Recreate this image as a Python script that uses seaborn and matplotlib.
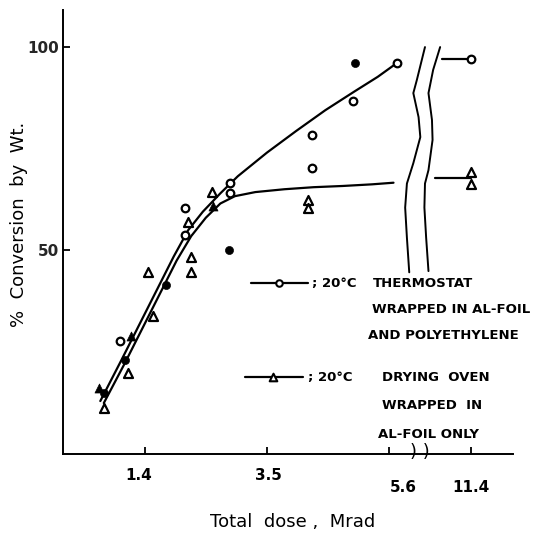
import numpy as np
import matplotlib
matplotlib.use("Agg")
import matplotlib.pyplot as plt
import seaborn as sns

# Conversion (% by weight) against total dose (Mrad)
thermo_dose = [0.97, 2.10, 2.10, 2.86, 2.86, 4.28, 4.28, 4.98, 5.73, 11.4]
thermo_conv = [27.7, 60.3, 53.7, 66.5, 64.0, 78.3, 70.2, 86.6, 96.0, 97.0]

oven_dose = [0.70, 1.11, 1.54, 1.45, 2.19, 2.20, 2.14, 2.55, 4.21, 4.21, 11.4, 11.4]
oven_conv = [11.2, 19.8, 34.0, 44.6, 44.6, 48.3, 56.9, 64.3, 62.3, 60.3, 69.3, 66.4]

solid_circle_dose = [0.70, 1.07, 1.76, 2.84, 5.01]
solid_circle_conv = [14.9, 23.0, 41.6, 50.0, 96.0]

solid_tri_dose = [0.61, 1.16, 2.57]
solid_tri_conv = [16.1, 28.9, 60.8]

# Hand-drawn trend curves
thermo_curve_dose = [0.64, 1.0, 1.3, 1.6, 1.9, 2.15, 2.4, 2.7, 3.0, 3.5, 4.0, 4.5, 5.0, 5.4, 5.73]
thermo_curve_conv = [13, 23, 31.5, 40, 48.5, 55, 59.5, 64, 68.2, 74, 79.3, 84.4, 89, 92.6, 96]
oven_curve_dose = [0.70, 1.05, 1.35, 1.65, 1.95, 2.2, 2.45, 2.7, 2.95, 3.3, 3.8, 4.3, 4.8, 5.3, 5.67]
oven_curve_conv = [12.5, 22, 30.5, 39, 47.5, 53.5, 58, 61.5, 63.3, 64.3, 65.0, 65.5, 65.8, 66.2, 66.6]

x_tick_values = [1.4, 3.5, 5.6, 11.4]
y_tick_values = [50, 100]

# The dose axis is broken after 5.6 Mrad; 11.4 Mrad sits just past the break
BREAK_DOSE = 11.4
BREAK_POS = 7.0


def axis_pos(doses):
    return [BREAK_POS if d == BREAK_DOSE else d for d in doses]


sns.set_theme(style="white")
plt.rcParams["font.family"] = ["DejaVu Sans"]

fig = plt.figure(figsize=(5.4, 5.35), dpi=100)
ax = fig.add_axes([63 / 540, 1 - 454 / 535, (513 - 63) / 540, (454 - 10) / 535])
ax.set_xlim(0, 7.72)
ax.set_ylim(0, 109)

ink = "black"
lw = 1.6

# trend curves
sns.lineplot(x=thermo_curve_dose, y=thermo_curve_conv, sort=False, estimator=None,
             color=ink, lw=lw, ax=ax)
sns.lineplot(x=oven_curve_dose, y=oven_curve_conv, sort=False, estimator=None,
             color=ink, lw=lw, ax=ax)

# short leaders to the 11.4 Mrad points
ax.plot([6.50, BREAK_POS], [thermo_conv[-1]] * 2, color=ink, lw=lw)
ax.plot([6.38, BREAK_POS], [np.mean(oven_conv[-2:])] * 2, color=ink, lw=lw)

# measured points
sns.scatterplot(x=axis_pos(thermo_dose), y=thermo_conv, marker="o", s=30,
                facecolor="white", edgecolor=ink, linewidth=1.6, ax=ax, zorder=4)
sns.scatterplot(x=axis_pos(oven_dose), y=oven_conv, marker="^", s=42,
                facecolor="white", edgecolor=ink, linewidth=1.6, ax=ax, zorder=4)
sns.scatterplot(x=solid_circle_dose, y=solid_circle_conv, marker="o", s=34,
                color=ink, edgecolor=ink, ax=ax, zorder=4)
sns.scatterplot(x=solid_tri_dose, y=solid_tri_conv, marker="^", s=42,
                color=ink, edgecolor=ink, ax=ax, zorder=4)

# wavy break lines through the plot area
wave_left_x = [6.21, 6.07, 6.01, 6.10, 6.13, 6.01, 5.90, 5.87, 5.90, 5.94]
wave_left_y = [99.9, 91.8, 88.6, 82.7, 77.8, 71.4, 66.4, 60.5, 53.1, 44.6]
wave_right_x = [6.47, 6.35, 6.27, 6.33, 6.34, 6.27, 6.21, 6.20, 6.23, 6.27]
wave_right_y = [99.9, 94.3, 88.6, 82.0, 77.1, 69.7, 66.4, 60.5, 53.1, 44.9]
ax.plot(wave_left_x, wave_left_y, color=ink, lw=1.4)
ax.plot(wave_right_x, wave_right_y, color=ink, lw=1.4)

# break marks on the dose axis
ax.text(6.12, 0.4, ") )", fontsize=13, ha="center", va="center", color=ink,
        clip_on=False)

# legend, lettered inside the plot
ax.plot([3.22, 4.21], [41.9, 41.9], color=ink, lw=lw)
ax.scatter([3.70], [41.9], marker="o", s=22, facecolor="white", edgecolor=ink,
           linewidth=1.5, zorder=4)
ax.plot([3.13, 4.12], [18.8, 18.8], color=ink, lw=lw)
ax.scatter([3.61], [18.8], marker="^", s=30, facecolor="white", edgecolor=ink,
           linewidth=1.5, zorder=4)

lkw = dict(fontsize=9.5, fontweight="bold", color=ink, va="center", ha="left")
ax.text(4.27, 41.9, "; 20°C", **lkw)
ax.text(5.32, 41.9, "THERMOSTAT", **lkw)
ax.text(5.30, 35.5, "WRAPPED IN AL-FOIL", clip_on=False, **lkw)
ax.text(5.24, 29.1, "AND POLYETHYLENE", **lkw)
ax.text(4.21, 18.8, "; 20°C", **lkw)
ax.text(5.48, 18.8, "DRYING  OVEN", **lkw)
ax.text(5.48, 11.9, "WRAPPED  IN", **lkw)
ax.text(5.41, 4.9, "AL-FOIL ONLY", **lkw)

# axes styling
for side in ("top", "right"):
    ax.spines[side].set_visible(False)
for side in ("left", "bottom"):
    ax.spines[side].set_color(ink)
    ax.spines[side].set_linewidth(1.4)

ax.set_xticks(axis_pos(x_tick_values))
ax.set_xticklabels([])
ax.set_yticks(y_tick_values)
ax.set_yticklabels([str(v) for v in y_tick_values], fontsize=11, fontweight="bold")
ax.tick_params(axis="both", direction="in", length=5, width=1.3, color=ink,
               left=True, bottom=True)
ax.tick_params(axis="y", pad=3)

label_shift = {1.4: (-0.10, -14), 3.5: (0.02, -14), 5.6: (0.23, -26), 11.4: (0.0, -26)}
for dose, pos in zip(x_tick_values, axis_pos(x_tick_values)):
    dx, dy = label_shift[dose]
    ax.annotate(str(dose), xy=(pos + dx, 0), xycoords=("data", "axes fraction"),
                xytext=(0, dy), textcoords="offset pixels", ha="center", va="top",
                fontsize=11, fontweight="bold", color=ink, annotation_clip=False)

ax.set_xlabel("Total  dose ,  Mrad", fontsize=13, color=ink)
ax.xaxis.set_label_coords(0.511, -0.133)
ax.set_ylabel("%  Conversion  by  Wt.", fontsize=13, color=ink)
ax.yaxis.set_label_coords(-0.078, 0.518)

fig.savefig("out.png", dpi=100, facecolor="white")
